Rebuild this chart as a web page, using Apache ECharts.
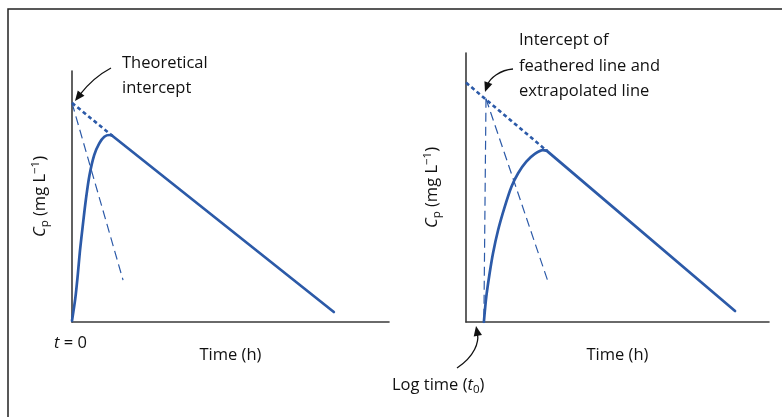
<!DOCTYPE html>
<html>
<head>
<meta charset="utf-8">
<script src="https://cdn.jsdelivr.net/npm/echarts@6/dist/echarts.min.js"></script>
<style>
html,body{margin:0;padding:0;background:#fff;}
#c{width:782px;height:417px;}
</style>
</head>
<body>
<div id="c"></div>
<script>
// ---- Data (arbitrary units: time 0-10, concentration 0-10) ----
const leftRiseT = [0, 0.104, 0.18, 0.25, 0.34, 0.44, 0.55, 0.70, 0.86, 1.02, 1.18, 1.26];
const leftRiseC = [0.05, 0.94, 1.85, 2.82, 3.84, 4.90, 5.84, 6.65, 7.12, 7.38, 7.45, 7.43];
const leftElimT = [1.26, 8.26];
const leftElimC = [7.43, 0.40];
const leftExtrapT = [0, 1.26];
const leftExtrapC = [8.73, 7.43];
const leftFeatherT = [0, 1.61];
const leftFeatherC = [8.73, 1.67];

const rightRiseT = [0.59, 0.67, 0.78, 0.89, 1.06, 1.28, 1.50, 1.72, 1.99, 2.27, 2.54, 2.66];
const rightRiseC = [0, 0.94, 1.81, 2.55, 3.42, 4.29, 5.03, 5.53, 5.96, 6.25, 6.39, 6.37];
const rightElimT = [2.66, 8.88];
const rightElimC = [6.37, 0.41];
const rightExtrapT = [0, 2.66];
const rightExtrapC = [8.9, 6.37];
const rightLagT = [0.66, 0.59];
const rightLagC = [8.3, 0];
const rightFeatherT = [0.66, 2.71];
const rightFeatherC = [8.3, 1.49];

const xAxisTitle = 'Time (h)';
const yAxisTitle = '{i|C}{sub|p}{n| (mg L}{sup|−1}{n|)}';
const leftNote = ['Theoretical', 'intercept'];
const rightNote = ['Intercept of', 'feathered line and', 'extrapolated line'];
const originLabel = '{i|t}{n| = 0}';
const lagLabel = '{n|Log time (}{i|t}{sub|0}{n|)}';

const FONT = '"Open Sans", "Noto Sans", sans-serif';
const BLUE = '#2c5aa8';
const AXIS = '#3a3a3a';
const FS = 16.5;

const pair = (t, c) => t.map((v, i) => [v, c[i]]);

const rich = {
  n: {fontFamily: FONT, fontSize: FS, color: '#111'},
  i: {fontFamily: FONT, fontSize: FS, color: '#111', fontStyle: 'italic'},
  sub: {fontFamily: FONT, fontSize: 11.5, color: '#111', verticalAlign: 'bottom', padding: [9, 0, 0, 0]},
  sup: {fontFamily: FONT, fontSize: 11.5, color: '#111', verticalAlign: 'top', padding: [0, 0, 8, 0]}
};

function axisPair(gi, gap) {
  return {
    x: {type: 'value', gridIndex: gi, min: 0, max: 10,
      axisLine: {show: true, lineStyle: {color: AXIS, width: 1.6}},
      axisTick: {show: false}, axisLabel: {show: false}, splitLine: {show: false},
      name: xAxisTitle, nameLocation: 'middle', nameGap: 25,
      nameTextStyle: {fontFamily: FONT, fontSize: FS, color: '#111'}},
    y: {type: 'value', gridIndex: gi, min: 0, max: 10,
      axisLine: {show: true, lineStyle: {color: AXIS, width: 1.6}},
      axisTick: {show: false}, axisLabel: {show: false}, splitLine: {show: false},
      name: yAxisTitle, nameLocation: 'middle', nameGap: gap, nameRotate: 90,
      nameTextStyle: {rich: rich}}
  };
}
const a0 = axisPair(0, 21), a1 = axisPair(1, 23);

function line(gi, data, opts) {
  return Object.assign({
    type: 'line', xAxisIndex: gi, yAxisIndex: gi, data: data,
    symbol: 'none', silent: true, animation: false
  }, opts);
}
const solid = {color: BLUE, width: 2.7, cap: 'round', join: 'round'};
const dotted = {color: BLUE, width: 2.6, type: [4, 3]};
const dashed = {color: BLUE, width: 1.2, type: [9, 5]};

function arrow(x1, y1, c1x, c1y, c2x, c2y, x2, y2) {
  const dx = x2 - c2x, dy = y2 - c2y, L = Math.hypot(dx, dy);
  const ux = dx / L, uy = dy / L, h = 10, w = 4.2;
  const bx = x2 - ux * h, by = y2 - uy * h;
  return [
    {type: 'bezierCurve', shape: {x1: x1, y1: y1, cpx1: c1x, cpy1: c1y, cpx2: c2x, cpy2: c2y, x2: bx + ux * 2, y2: by + uy * 2},
      style: {stroke: '#111', lineWidth: 1.3, fill: null}, silent: true},
    {type: 'polygon', shape: {points: [[x2, y2], [bx - uy * w, by + ux * w], [bx + uy * w, by - ux * w]]},
      style: {fill: '#111'}, silent: true}
  ];
}
function txt(x, y, s, align) {
  return {type: 'text', x: x, y: y, silent: true,
    style: {text: s, rich: rich, fontFamily: FONT, fontSize: FS, fill: '#111', align: align || 'left', verticalAlign: 'middle'}};
}

const graphics = [
  {type: 'rect', shape: {x: 8, y: 9, width: 820, height: 440}, style: {stroke: '#222', lineWidth: 1.5, fill: null}, silent: true},
  txt(122, 63, '{n|' + leftNote[0] + '}'),
  txt(122, 88, '{n|' + leftNote[1] + '}'),
  txt(519, 40, '{n|' + rightNote[0] + '}'),
  txt(519, 66, '{n|' + rightNote[1] + '}'),
  txt(519, 91, '{n|' + rightNote[2] + '}'),
  txt(54, 343, originLabel),
  txt(392, 385, lagLabel)
].concat(
  arrow(111, 68, 96, 76, 85, 88, 75, 101),
  arrow(513, 69, 500, 70, 490, 78, 485, 92),
  arrow(457, 368, 475, 356, 479, 342, 476, 326)
);

const chart = echarts.init(document.getElementById('c'), null, {renderer: 'canvas'});
chart.setOption({
  animation: false,
  backgroundColor: '#fff',
  grid: [
    {left: 72, top: 71, width: 317, height: 251},
    {left: 466, top: 53, width: 303, height: 269}
  ],
  xAxis: [a0.x, a1.x],
  yAxis: [a0.y, a1.y],
  series: [
    line(0, pair(leftExtrapT, leftExtrapC), {lineStyle: dotted}),
    line(0, pair(leftFeatherT, leftFeatherC), {lineStyle: dashed}),
    line(0, pair(leftRiseT, leftRiseC), {lineStyle: solid, smooth: 0.3}),
    line(0, pair(leftElimT, leftElimC), {lineStyle: solid}),
    line(1, pair(rightExtrapT, rightExtrapC), {lineStyle: dotted}),
    line(1, pair(rightLagT, rightLagC), {lineStyle: dashed}),
    line(1, pair(rightFeatherT, rightFeatherC), {lineStyle: dashed}),
    line(1, pair(rightRiseT, rightRiseC), {lineStyle: solid, smooth: 0.3}),
    line(1, pair(rightElimT, rightElimC), {lineStyle: solid})
  ],
  graphic: graphics
});
</script>
</body>
</html>
